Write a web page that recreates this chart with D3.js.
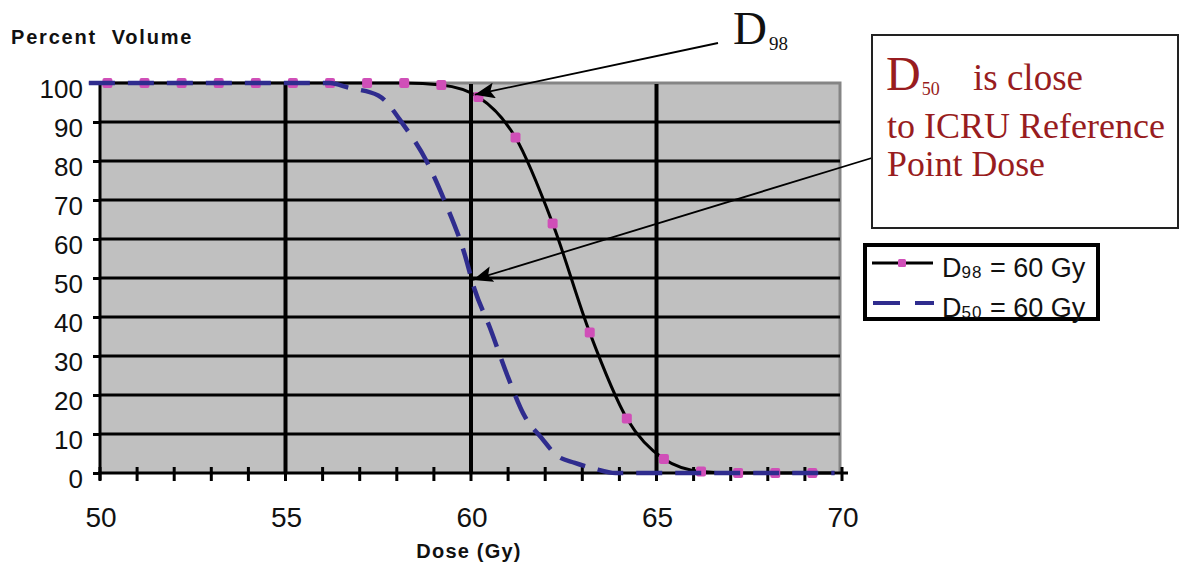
<!DOCTYPE html>
<html>
<head>
<meta charset="utf-8">
<script src="https://cdn.jsdelivr.net/npm/d3@7"></script>
<style>
  html, body { margin: 0; padding: 0; background: #fff; }
  svg { display: block; }
  text { white-space: pre; }
</style>
</head>
<body>
<svg id="chart" width="1180" height="569"></svg>
<script>
// ---------- data ----------
const xTicks = [50, 55, 60, 65, 70];
const yTicks = [0, 10, 20, 30, 40, 50, 60, 70, 80, 90, 100];

// D98 = 60 Gy curve (solid, with markers at the sampled doses)
const doseD98 = [49.7, 50.2, 51.2, 52.2, 53.2, 54.2, 55.2, 56.2, 57.2, 58.2, 59.2, 60.2, 61.2, 62.2, 63.2, 64.2, 65.2, 66.2, 67.2, 68.2, 69.2, 69.8];
const volD98  = [100, 100, 100, 100, 100, 100, 100, 100, 100, 100, 99.5, 96.4, 86, 64, 36, 14, 3.6, 0.4, 0, 0, 0, 0];

// D50 = 60 Gy curve (dashed)
const doseD50 = [49.7, 56.2, 56.7, 57.5, 58.2, 58.8, 59.3, 59.8, 60.1, 60.5, 61.0, 61.45, 61.9, 62.3, 62.8, 63.3, 63.9, 69.8];
const volD50  = [100, 100, 98.8, 96.8, 89, 80, 69.5, 57, 47, 37.5, 24.5, 14.5, 9, 4.6, 2.6, 1.2, 0, 0];

const legendLabels = [{ main: "D", sub: "98", rest: " = 60 Gy" }, { main: "D", sub: "50", rest: " = 60 Gy" }];

// ---------- layout ----------
const svg = d3.select("#chart");
const x = d3.scaleLinear().domain([50, 70]).range([100, 842]);
const y = d3.scaleLinear().domain([0, 100]).range([473, 83]);

const grey = "#c0c0c0";
const magenta = "#d04fb8";
const navy = "#2f2c8e";
const darkRed = "#981c20";

// plot background
svg.append("rect")
  .attr("x", x(50)).attr("y", y(100))
  .attr("width", x(70) - x(50) - 2).attr("height", y(0) - y(100))
  .attr("fill", grey);

// grey border top and right
svg.append("path")
  .attr("d", `M${x(50)},${y(100)} H${x(70) - 2} V${y(0)}`)
  .attr("fill", "none").attr("stroke", "#858585").attr("stroke-width", 3);

// horizontal gridlines
svg.append("g").selectAll("line")
  .data(yTicks.filter(d => d > 0 && d < 100))
  .join("line")
  .attr("x1", x(50)).attr("x2", x(70) - 2)
  .attr("y1", d => y(d)).attr("y2", d => y(d))
  .attr("stroke", "#000").attr("stroke-width", 3);

// vertical gridlines
svg.append("g").selectAll("line")
  .data(xTicks.filter(d => d > 50 && d < 70))
  .join("line")
  .attr("x1", d => x(d)).attr("x2", d => x(d))
  .attr("y1", y(100) + 1).attr("y2", y(0))
  .attr("stroke", "#000").attr("stroke-width", 4);

// y axis
const yAxis = d3.axisLeft(y).tickValues(yTicks).tickSize(7).tickFormat("");
const gy = svg.append("g").attr("transform", `translate(${x(50)},0)`).call(yAxis);
gy.select(".domain").remove();
gy.selectAll(".tick line").attr("stroke", "#000").attr("stroke-width", 3);
svg.append("line")
  .attr("x1", x(50)).attr("x2", x(50))
  .attr("y1", y(100)).attr("y2", y(0) + 7)
  .attr("stroke", "#000").attr("stroke-width", 3);

// y tick labels
svg.append("g").selectAll("text")
  .data(yTicks).join("text")
  .attr("x", 83).attr("y", d => y(d) + 15)
  .attr("text-anchor", "end")
  .attr("font-family", "Liberation Sans, Arial, sans-serif")
  .attr("font-size", 26)
  .attr("fill", "#111")
  .text(d => d);

// x axis (crossing ticks)
svg.append("line")
  .attr("x1", x(50) - 2).attr("x2", x(70) + 6)
  .attr("y1", y(0)).attr("y2", y(0))
  .attr("stroke", "#000").attr("stroke-width", 3);
const minorX = d3.range(50, 71);
svg.append("g").selectAll("line")
  .data(minorX).join("line")
  .attr("x1", d => x(d)).attr("x2", d => x(d))
  .attr("y1", y(0) - 6).attr("y2", y(0) + 8)
  .attr("stroke", "#000").attr("stroke-width", 3);

// x tick labels
svg.append("g").selectAll("text")
  .data(xTicks).join("text")
  .attr("x", d => x(d) + 1).attr("y", 527)
  .attr("text-anchor", "middle")
  .attr("font-family", "Liberation Sans, Arial, sans-serif")
  .attr("font-size", 28)
  .attr("fill", "#111")
  .text(d => d);

// axis titles
svg.append("text")
  .attr("x", 11).attr("y", 44)
  .attr("font-family", "Liberation Sans, Arial, sans-serif")
  .attr("font-weight", "bold").attr("font-size", 20)
  .attr("letter-spacing", 1.8)
  .attr("fill", "#111")
  .text("Percent  Volume");
svg.append("text")
  .attr("x", x(60) - 2).attr("y", 558)
  .attr("text-anchor", "middle")
  .attr("font-family", "Liberation Sans, Arial, sans-serif")
  .attr("font-weight", "bold").attr("font-size", 20)
  .attr("letter-spacing", 1.2)
  .attr("fill", "#111")
  .text("Dose (Gy)");

// curves
const d98 = doseD98.map((d, i) => [d, volD98[i]]);
const d50 = doseD50.map((d, i) => [d, volD50[i]]);
const line = d3.line().x(d => x(d[0])).y(d => y(d[1])).curve(d3.curveMonotoneX);

svg.append("path").datum(d98)
  .attr("d", line).attr("fill", "none")
  .attr("stroke", "#000").attr("stroke-width", 3);

svg.append("g").selectAll("rect")
  .data(d98.slice(1, -1)).join("rect")
  .attr("x", d => x(d[0]) - 5).attr("y", d => y(d[1]) - 5)
  .attr("width", 10).attr("height", 10).attr("rx", 2)
  .attr("fill", magenta);

svg.append("path").datum(d50)
  .attr("d", line).attr("fill", "none")
  .attr("stroke", navy).attr("stroke-width", 4.5)
  .attr("stroke-dasharray", "26,13");

// ---------- annotations ----------
const defs = svg.append("defs");
defs.append("marker")
  .attr("id", "arrow")
  .attr("markerUnits", "userSpaceOnUse")
  .attr("viewBox", "0 0 20 16")
  .attr("refX", 20).attr("refY", 8)
  .attr("markerWidth", 20).attr("markerHeight", 16)
  .attr("orient", "auto")
  .append("path").attr("d", "M0,0 L20,8 L0,16 L4,8 Z").attr("fill", "#000");

svg.append("line")
  .attr("x1", 718).attr("y1", 43)
  .attr("x2", x(60.1)).attr("y2", y(97))
  .attr("stroke", "#000").attr("stroke-width", 1.8)
  .attr("marker-end", "url(#arrow)");

svg.append("line")
  .attr("x1", 875).attr("y1", 157)
  .attr("x2", x(60.05)).attr("y2", y(49.5))
  .attr("stroke", "#000").attr("stroke-width", 1.8)
  .attr("marker-end", "url(#arrow)");

// D98 label
const t98 = svg.append("text")
  .attr("x", 733).attr("y", 44)
  .attr("font-family", "Liberation Serif, Times New Roman, serif")
  .attr("fill", "#111");
t98.append("tspan").attr("font-size", 47).text("D");
t98.append("tspan").attr("font-size", 19).attr("dy", 6).attr("dx", 2).text("98");

// annotation box
svg.append("rect")
  .attr("x", 872).attr("y", 35).attr("width", 306).attr("height", 193)
  .attr("fill", "#fff").attr("stroke", "#222").attr("stroke-width", 2);

const tb = svg.append("text")
  .attr("x", 886).attr("y", 90)
  .attr("font-family", "Liberation Serif, Times New Roman, serif")
  .attr("fill", darkRed);
tb.append("tspan").attr("font-size", 48).text("D");
tb.append("tspan").attr("font-size", 18).attr("dy", 5).attr("dx", 1).text("50");
tb.append("tspan").attr("x", 973).attr("dy", -5).attr("font-size", 37).text("is close");

svg.append("text")
  .attr("x", 887).attr("y", 138)
  .attr("font-family", "Liberation Serif, Times New Roman, serif")
  .attr("font-size", 36).attr("fill", darkRed)
  .attr("textLength", 278).attr("lengthAdjust", "spacingAndGlyphs")
  .text("to ICRU Reference");
svg.append("text")
  .attr("x", 887).attr("y", 176)
  .attr("font-family", "Liberation Serif, Times New Roman, serif")
  .attr("font-size", 36).attr("fill", darkRed)
  .attr("textLength", 158).attr("lengthAdjust", "spacingAndGlyphs")
  .text("Point Dose");

// ---------- legend ----------
const lg = svg.append("g");
lg.append("rect")
  .attr("x", 865).attr("y", 245).attr("width", 233).attr("height", 74)
  .attr("fill", "#fff").attr("stroke", "#000").attr("stroke-width", 4);

const rowY = [263, 303];
// row 1 sample
lg.append("line").attr("x1", 872).attr("x2", 933).attr("y1", rowY[0]).attr("y2", rowY[0])
  .attr("stroke", "#000").attr("stroke-width", 3);
lg.append("rect").attr("x", 898).attr("y", rowY[0] - 4).attr("width", 8).attr("height", 8)
  .attr("rx", 1.5).attr("fill", magenta);
// row 2 sample
lg.append("line").attr("x1", 873).attr("x2", 934).attr("y1", rowY[1]).attr("y2", rowY[1])
  .attr("stroke", navy).attr("stroke-width", 4).attr("stroke-dasharray", "27,15");

legendLabels.forEach((l, i) => {
  const t = lg.append("text")
    .attr("x", 942).attr("y", rowY[i] + 14)
    .attr("font-family", "Liberation Sans, Arial, sans-serif")
    .attr("fill", "#111");
  t.append("tspan").attr("font-size", 27).text(l.main);
  t.append("tspan").attr("font-size", 17).attr("dy", 1).attr("letter-spacing", 1).text(l.sub);
  t.append("tspan").attr("font-size", 27).attr("dy", -1).text(l.rest);
});
</script>
</body>
</html>
